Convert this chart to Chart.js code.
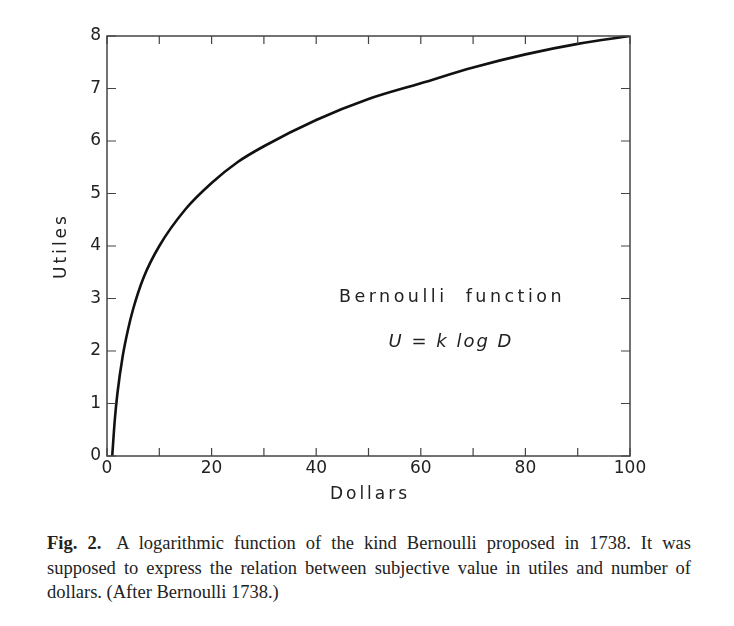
<!DOCTYPE html>
<html>
<head>
<meta charset="utf-8">
<script src="https://cdn.jsdelivr.net/npm/chart.js@4.4.1/dist/chart.umd.min.js"></script>
<style>
    body { margin: 0; background: #fff; }
    #wrap { position: relative; width: 734px; height: 626px; }
    #chart { position: absolute; left: 0; top: 0; }
    #caption {
        position: absolute; left: 47px; top: 531px; width: 644px;
        font-family: "Liberation Serif", serif; font-size: 18.5px; line-height: 24.5px;
        color: #222;
    }
    #caption div { text-align: justify; text-align-last: justify; white-space: nowrap; }
    #caption div.last { text-align-last: left; }
    #caption b { font-weight: bold; margin-right: 6px; }
</style>
</head>
<body>
<div id="wrap">
    <canvas id="chart" width="734" height="520"></canvas>
    <div id="caption">
        <div><b>Fig. 2.</b> A logarithmic function of the kind Bernoulli proposed in 1738. It was</div>
        <div>supposed to express the relation between subjective value in utiles and number of</div>
        <div class="last">dollars. (After Bernoulli 1738.)</div>
    </div>
</div>
<script>
// values
const dollars = [1, 1.5, 2, 3, 4, 5, 7, 10, 15, 20, 25, 30, 40, 50, 60, 70, 80, 90, 100];
const utiles = [0, 0.7, 1.2, 1.9, 2.4, 2.8, 3.4, 4.0, 4.7, 5.2, 5.6, 5.9, 6.4, 6.8, 7.1, 7.4, 7.65, 7.85, 8.0];
const xTicks = [0, 10, 20, 30, 40, 50, 60, 70, 80, 90, 100];
const xLabels = [0, 20, 40, 60, 80, 100];
const yTicks = [0, 1, 2, 3, 4, 5, 6, 7, 8];

const points = dollars.map((d, i) => ({ x: d, y: utiles[i] }));
const tickFont = { family: 'DejaVu Sans', size: 17 };

// frame with inward ticks, axis titles and the annotation
const framePlugin = {
    id: 'frame',
    afterDraw(chart) {
        const { ctx, chartArea: a, scales } = chart;
        const xs = scales.x, ys = scales.y;
        ctx.save();
        ctx.strokeStyle = '#444';
        ctx.lineWidth = 1.5;
        ctx.strokeRect(a.left, a.top, a.right - a.left, a.bottom - a.top);
        ctx.lineWidth = 1.2;
        ctx.beginPath();
        xTicks.forEach(v => {
            const px = xs.getPixelForValue(v);
            ctx.moveTo(px, a.bottom); ctx.lineTo(px, a.bottom - 8);
            ctx.moveTo(px, a.top); ctx.lineTo(px, a.top + 8);
        });
        yTicks.forEach(v => {
            const py = ys.getPixelForValue(v);
            ctx.moveTo(a.left, py); ctx.lineTo(a.left + 9, py);
            ctx.moveTo(a.right, py); ctx.lineTo(a.right - 9, py);
        });
        ctx.stroke();

        ctx.fillStyle = '#222';
        ctx.letterSpacing = '3px';
        ctx.textAlign = 'center';
        ctx.textBaseline = 'middle';
        ctx.font = '17px "DejaVu Sans"';
        ctx.fillText('Dollars', 370, 495);
        ctx.save();
        ctx.translate(62, 246);
        ctx.rotate(-Math.PI / 2);
        ctx.fillText('Utiles', 0, 0);
        ctx.restore();
        ctx.letterSpacing = '3.5px';
        ctx.font = '17.5px "DejaVu Sans"';
        ctx.fillText('Bernoulli  function', 452, 297);
        ctx.letterSpacing = '2px';
        ctx.font = 'italic 18px "DejaVu Sans"';
        ctx.fillText('U = k log D', 451, 342);
        ctx.restore();
    }
};

new Chart(document.getElementById('chart'), {
    type: 'scatter',
    data: {
        datasets: [{
            data: points,
            showLine: true,
            borderColor: '#111',
            borderWidth: 2.6,
            pointRadius: 0,
            cubicInterpolationMode: 'monotone',
            fill: false
        }]
    },
    options: {
        responsive: false,
        animation: false,
        layout: { padding: { top: 36, right: 104, left: 0, bottom: 0 } },
        plugins: { legend: { display: false }, tooltip: { enabled: false } },
        scales: {
            x: {
                type: 'linear', min: 0, max: 100,
                afterBuildTicks: s => { s.ticks = xTicks.map(v => ({ value: v })); },
                afterFit: s => { s.height = 520 - 456; },
                grid: { display: false, drawTicks: false },
                border: { display: false },
                ticks: {
                    font: tickFont, color: '#222', padding: 2, maxRotation: 0, autoSkip: false,
                    callback: v => xLabels.includes(v) ? String(v) : ''
                }
            },
            y: {
                type: 'linear', min: 0, max: 8,
                afterBuildTicks: s => { s.ticks = yTicks.map(v => ({ value: v })); },
                afterFit: s => { s.width = 107; },
                grid: { display: false, drawTicks: false },
                border: { display: false },
                ticks: { font: tickFont, color: '#222', padding: 6 }
            }
        }
    },
    plugins: [framePlugin]
});
</script>
</body>
</html>
